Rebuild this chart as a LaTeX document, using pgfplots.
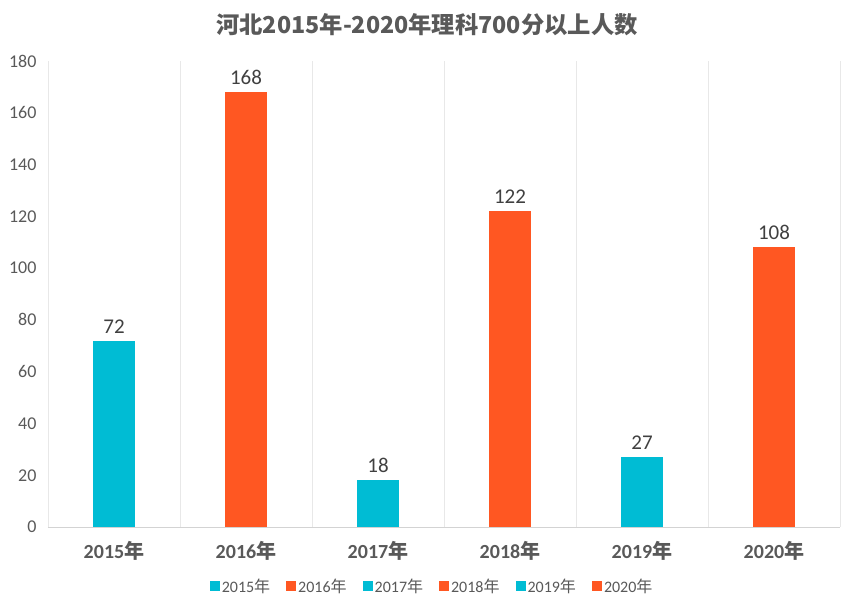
\documentclass[border=0pt]{standalone}
\usepackage{pgfplots}
\pgfplotsset{compat=1.18}
\usepackage{fontspec}
\setmainfont{Carlito}
\newfontfamily\cjk{Noto Sans CJK SC}
\definecolor{cy}{HTML}{00BCD4}
\definecolor{og}{HTML}{FF5722}
\definecolor{txt}{HTML}{595959}
\definecolor{lbl}{HTML}{404040}
\definecolor{grd}{HTML}{E8E8E8}
\begin{document}
\begin{tikzpicture}
\begin{axis}[
  scale only axis, width=792pt, height=466pt,
  xmin=-0.5, xmax=5.5, ymin=0, ymax=180,
  /pgf/number format/assume math mode=true,
  ybar, bar width=42pt, bar shift=0pt,
  xtick={0,...,5},
  xticklabels={2015{\cjk 年},2016{\cjk 年},2017{\cjk 年},2018{\cjk 年},2019{\cjk 年},2020{\cjk 年}},
  minor xtick={-0.5,0.5,...,5.5},
  xminorgrids, minor grid style={grd, line width=0.8pt},
  ytick={0,20,...,180},
  separate axis lines,
  axis x line*=bottom, axis y line*=left,
  x axis line style={draw=grd!80!gray, line width=0.9pt, -},
  y axis line style={draw=none},
  major tick length=0pt, minor tick length=0pt,
  tick label style={color=txt},
  yticklabel style={font=\fontsize{18}{18}\selectfont, xshift=-8pt},
  xticklabel style={font=\fontsize{20}{20}\selectfont\bfseries, yshift=-11pt},
  nodes near coords,
  nodes near coords style={font=\fontsize{21}{21}\selectfont, color=lbl, yshift=4pt},
  legend style={at={(0.485,-0.127)}, anchor=center, legend columns=6, draw=none,
    font=\fontsize{16}{16}\selectfont, text=txt,
    /tikz/every even column/.append style={column sep=14pt}},
  legend image code/.code={\fill[#1] (0pt,-5pt) rectangle (10pt,5pt);},
]
\addplot[fill=cy, draw=none] coordinates {(0,72)};
\addlegendentry{2015{\cjk 年}}
\addplot[fill=og, draw=none] coordinates {(1,168)};
\addlegendentry{2016{\cjk 年}}
\addplot[fill=cy, draw=none] coordinates {(2,18)};
\addlegendentry{2017{\cjk 年}}
\addplot[fill=og, draw=none] coordinates {(3,122)};
\addlegendentry{2018{\cjk 年}}
\addplot[fill=cy, draw=none] coordinates {(4,27)};
\addlegendentry{2019{\cjk 年}}
\addplot[fill=og, draw=none] coordinates {(5,108)};
\addlegendentry{2020{\cjk 年}}
\end{axis}
\node[font=\fontsize{23.3}{23.3}\selectfont\bfseries\cjk, color=txt] at ([xshift=-17pt,yshift=36pt]current axis.north) {河北2015年-2020年理科700分以上人数};
\path ([xshift=-48pt,yshift=-82pt]current axis.south west) rectangle ([xshift=14pt,yshift=61pt]current axis.north east);
\end{tikzpicture}
\end{document}
